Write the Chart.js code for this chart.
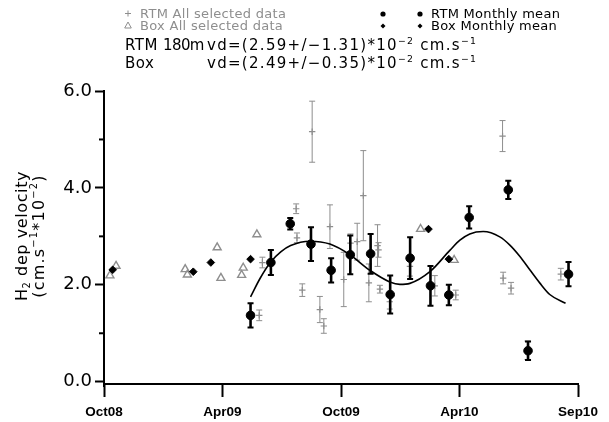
<!DOCTYPE html>
<html><head><meta charset="utf-8">
<script src="https://cdn.jsdelivr.net/npm/chart.js@4.4.0/dist/chart.umd.min.js"></script>
<style>html,body{margin:0;padding:0;background:#fff;}canvas{display:block;}</style>
</head><body>
<canvas id="c" width="609" height="422"></canvas>
<script>
// x = months since 1 Oct 2008
const xTickValues = [0, 6, 12, 18, 24];
const xTickLabels = ['Oct08', 'Apr09', 'Oct09', 'Apr10', 'Sep10'];
const yTickValues = [0, 1, 2, 3, 4, 5, 6];

// RTM all selected data (grey crosses with error bars)
const rtmAllX   = [7.86, 8.02, 9.73, 9.77, 10.04, 10.54, 10.93, 11.13, 11.44, 12.14, 12.48, 12.82, 13.13, 13.41, 13.85, 13.90, 13.97, 14.47, 15.49, 16.75, 17.81, 20.18, 20.21, 20.61, 21.44, 23.13];
const rtmAllY   = [1.37, 2.46, 3.57, 2.97, 1.89, 5.16, 1.49, 1.15, 3.20, 2.11, 2.86, 2.89, 3.84, 2.04, 2.81, 2.72, 1.91, 1.65, 2.38, 1.98, 1.79, 5.07, 2.14, 1.93, 0.65, 2.22];
const rtmAllErr = [0.11, 0.11, 0.10, 0.10, 0.13, 0.63, 0.27, 0.15, 0.45, 0.56, 0.19, 0.38, 0.93, 0.39, 0.43, 0.15, 0.08, 0.15, 0.20, 0.21, 0.10, 0.32, 0.12, 0.12, 0.19, 0.12];

// Box all selected data (grey triangles)
const boxAllX = [0.30, 0.61, 4.11, 4.22, 5.73, 5.92, 6.97, 7.05, 7.74, 16.03, 17.73];
const boxAllY = [2.19, 2.39, 2.32, 2.21, 2.77, 2.14, 2.20, 2.35, 3.04, 3.15, 2.51];

// RTM monthly mean (black circles with error bars)
const rtmMeanX   = [7.42, 8.45, 9.43, 10.48, 11.50, 12.47, 13.50, 14.49, 15.50, 16.53, 17.46, 18.49, 20.47, 21.47, 23.52];
const rtmMeanY   = [1.37, 2.46, 3.26, 2.84, 2.30, 2.62, 2.64, 1.80, 2.55, 1.98, 1.79, 3.39, 3.96, 0.64, 2.22];
const rtmMeanErr = [0.25, 0.26, 0.12, 0.35, 0.25, 0.40, 0.41, 0.39, 0.43, 0.41, 0.21, 0.23, 0.19, 0.19, 0.25];

// Box monthly mean (black diamonds)
const boxMeanX = [0.44, 4.52, 5.41, 7.42, 16.43, 17.46];
const boxMeanY = [2.31, 2.27, 2.46, 2.53, 3.15, 2.53];

// fitted curve
const fitX = [7.42, 7.90, 8.44, 8.95, 9.45, 10.43, 11.44, 12.45, 13.46, 14.47, 14.98, 15.49, 16.50, 17.51, 18.02, 18.52, 19.20, 20.04, 20.55, 21.05, 21.56, 22.06, 22.57, 23.37];
const fitY = [1.75, 2.13, 2.47, 2.68, 2.81, 2.90, 2.84, 2.62, 2.30, 2.06, 2.01, 2.03, 2.27, 2.71, 2.92, 3.05, 3.10, 2.99, 2.82, 2.59, 2.31, 2.04, 1.80, 1.62];

// header statistics
const statNames = ['RTM 180m', 'Box'];
const statMeans = ['2.59', '2.49'];
const statErrs  = ['1.31', '0.35'];

const legendLeft  = ['RTM All selected data', 'Box All selected data'];
const legendRight = ['RTM Monthly mean', 'Box Monthly mean'];

const GREY = '#8e8e8e';
const pts = (xs, ys) => xs.map((x, i) => ({x: x, y: ys[i]}));

function drawRich(ctx, x, y, segs, size, spacing, weight) {
  let cx = x;
  segs.forEach(s => {
    const fs = s.sup || s.sub ? size * 0.62 : size;
    ctx.font = (weight || 'normal') + ' ' + fs + 'px "DejaVu Sans"';
    ctx.letterSpacing = (spacing || 0) + 'px';
    const dy = s.sup ? -size * 0.42 : (s.sub ? size * 0.22 : 0);
    ctx.fillText(s.t, cx, y + dy);
    cx += ctx.measureText(s.t).width;
  });
  return cx - x;
}
function richWidth(ctx, segs, size, spacing, weight) {
  let w = 0;
  segs.forEach(s => {
    const fs = s.sup || s.sub ? size * 0.62 : size;
    ctx.font = (weight || 'normal') + ' ' + fs + 'px "DejaVu Sans"';
    ctx.letterSpacing = (spacing || 0) + 'px';
    w += ctx.measureText(s.t).width;
  });
  return w;
}

const errorBars = {
  id: 'errorBars',
  beforeDatasetDraw(chart, args) {
    const ds = chart.data.datasets[args.index];
    if (!ds.errors) return;
    const xs = chart.scales.x, ys = chart.scales.y, ctx = chart.ctx;
    ctx.save();
    ctx.strokeStyle = ds.errColor;
    ds.data.forEach((p, i) => {
      const e = ds.errors[i];
      const px = xs.getPixelForValue(p.x);
      const y1 = ys.getPixelForValue(p.y - e), y2 = ys.getPixelForValue(p.y + e);
      ctx.lineWidth = ds.errWidth;
      ctx.beginPath(); ctx.moveTo(px, y1); ctx.lineTo(px, y2); ctx.stroke();
      ctx.lineWidth = ds.capWidth;
      ctx.beginPath();
      ctx.moveTo(px - ds.capHalf, y1); ctx.lineTo(px + ds.capHalf, y1);
      ctx.moveTo(px - ds.capHalf, y2); ctx.lineTo(px + ds.capHalf, y2);
      ctx.stroke();
    });
    ctx.restore();
  }
};

const decorations = {
  id: 'decorations',
  afterDraw(chart) {
    const ctx = chart.ctx, ys = chart.scales.y, left = chart.chartArea.left;
    ctx.save();
    // minor y ticks
    ctx.strokeStyle = '#000'; ctx.lineWidth = 2;
    yTickValues.forEach(v => {
      if (v % 2 === 1) {
        const py = ys.getPixelForValue(v);
        ctx.beginPath(); ctx.moveTo(left - 5, py); ctx.lineTo(left, py); ctx.stroke();
      }
    });
    // small extension of the y axis below the x axis
    ctx.beginPath(); ctx.moveTo(left, chart.chartArea.bottom); ctx.lineTo(left, chart.chartArea.bottom + 3); ctx.stroke();
    // legend (left, grey)
    ctx.textBaseline = 'alphabetic'; ctx.textAlign = 'left';
    ctx.fillStyle = GREY; ctx.strokeStyle = GREY; ctx.lineWidth = 1;
    ctx.font = '13px "DejaVu Sans"'; ctx.letterSpacing = '0.3px';
    ctx.fillText(legendLeft[0], 140, 18);
    ctx.fillText(legendLeft[1], 140, 30);
    ctx.beginPath(); ctx.moveTo(125, 13.5); ctx.lineTo(131, 13.5); ctx.moveTo(128, 10.5); ctx.lineTo(128, 16.5); ctx.stroke();
    ctx.beginPath(); ctx.moveTo(128, 22); ctx.lineTo(131.3, 28); ctx.lineTo(124.7, 28); ctx.closePath(); ctx.stroke();
    // legend (right, black)
    ctx.fillStyle = '#000';
    ctx.fillText(legendRight[0], 431, 18);
    ctx.fillText(legendRight[1], 431, 30);
    [383, 420].forEach(x => {
      ctx.beginPath(); ctx.arc(x, 14, 2.6, 0, Math.PI * 2); ctx.fill();
      ctx.beginPath(); ctx.moveTo(x, 23.5); ctx.lineTo(x + 2.5, 26); ctx.lineTo(x, 28.5); ctx.lineTo(x - 2.5, 26); ctx.closePath(); ctx.fill();
    });
    // statistics header
    const base = [50, 68];
    statNames.forEach((n, i) => {
      const parts = n.split(' ');
      ctx.font = '15px "DejaVu Sans"'; ctx.letterSpacing = '0.5px';
      ctx.fillText(parts[0], 125, base[i]);
      if (parts[1]) { ctx.letterSpacing = '-0.6px'; ctx.fillText(parts[1], 163, base[i]); }
      const segs = [
        {t: 'vd=(' + statMeans[i] + '+/\u2212' + statErrs[i] + ')*10'},
        {t: '\u22122', sup: true},
        {t: ' cm.s'},
        {t: '\u22121', sup: true}
      ];
      drawRich(ctx, 207, base[i], segs, 15, 1.3);
    });
    // y axis title
    const l1 = [{t: 'H'}, {t: '2', sub: true}, {t: ' dep velocity'}];
    const l2 = [{t: '(cm.s'}, {t: '\u22121', sup: true}, {t: '*10'}, {t: '\u22122', sup: true}, {t: ')'}];
    ctx.translate(0, 236);
    ctx.rotate(-Math.PI / 2);
    const w1 = richWidth(ctx, l1, 16, 0.6);
    drawRich(ctx, -w1 / 2, 26.5, l1, 16, 0.6);
    const w2 = richWidth(ctx, l2, 16, 1.2);
    drawRich(ctx, -w2 / 2, 43.5, l2, 16, 1.2);
    ctx.restore();
  }
};

new Chart(document.getElementById('c'), {
  type: 'scatter',
  data: {
    datasets: [
      {
        label: 'RTM Monthly mean', data: pts(rtmMeanX, rtmMeanY), order: 0,
        pointStyle: 'circle', pointRadius: 4.3, backgroundColor: '#000', borderColor: '#000', borderWidth: 1,
        errors: rtmMeanErr, errColor: '#000', errWidth: 2.6, capWidth: 2, capHalf: 3
      },
      {
        label: 'Box Monthly mean', data: pts(boxMeanX, boxMeanY), order: 1,
        pointStyle: 'rectRot', pointRadius: 3.8, backgroundColor: '#000', borderColor: '#000', borderWidth: 1
      },
      {
        label: 'fit', type: 'line', data: pts(fitX, fitY), order: 2,
        borderColor: '#000', borderWidth: 1.6, pointRadius: 0, fill: false,
        cubicInterpolationMode: 'monotone'
      },
      {
        label: 'Box All selected data', data: pts(boxAllX, boxAllY), order: 3,
        pointStyle: 'triangle', pointRadius: 4.6, backgroundColor: 'rgba(0,0,0,0)', borderColor: GREY, borderWidth: 1.4
      },
      {
        label: 'RTM All selected data', data: pts(rtmAllX, rtmAllY), order: 4,
        pointStyle: 'cross', pointRadius: 3.2, borderColor: GREY, borderWidth: 1.2,
        errors: rtmAllErr, errColor: GREY, errWidth: 1, capWidth: 1, capHalf: 3
      }
    ]
  },
  options: {
    responsive: false, animation: false, devicePixelRatio: 1,
    layout: {padding: {top: 91, right: 31, left: 0, bottom: 0}},
    plugins: {legend: {display: false}, tooltip: {enabled: false}},
    scales: {
      x: {
        type: 'linear', min: 0, max: 24,
        afterFit(s) { s.height = 38; },
        afterBuildTicks(s) { s.ticks = xTickValues.map(v => ({value: v})); },
        grid: {drawOnChartArea: false, drawTicks: true, tickLength: 13, tickColor: '#000', tickWidth: 2},
        border: {color: '#000', width: 2},
        ticks: {
          color: '#000', padding: 7, maxRotation: 0, autoSkip: false,
          font: {family: '"Liberation Sans"', size: 13.5, weight: 'bold'},
          callback: v => xTickLabels[xTickValues.indexOf(v)]
        }
      },
      y: {
        type: 'linear', min: -0.047, max: 6,
        afterFit(s) { s.width = 104; },
        afterBuildTicks(s) { s.ticks = yTickValues.map(v => ({value: v})); },
        grid: {
          drawOnChartArea: false, drawTicks: true, tickLength: 9, tickWidth: 2,
          tickColor: c => (c.tick && c.tick.value % 2 === 0) ? '#000' : 'rgba(0,0,0,0)'
        },
        border: {color: '#000', width: 2},
        ticks: {
          color: '#000', padding: 3,
          font: {family: '"DejaVu Sans"', size: 18},
          callback: v => (v % 2 === 0 ? v.toFixed(1) : '')
        }
      }
    }
  },
  plugins: [errorBars, decorations]
});
</script>
</body></html>
